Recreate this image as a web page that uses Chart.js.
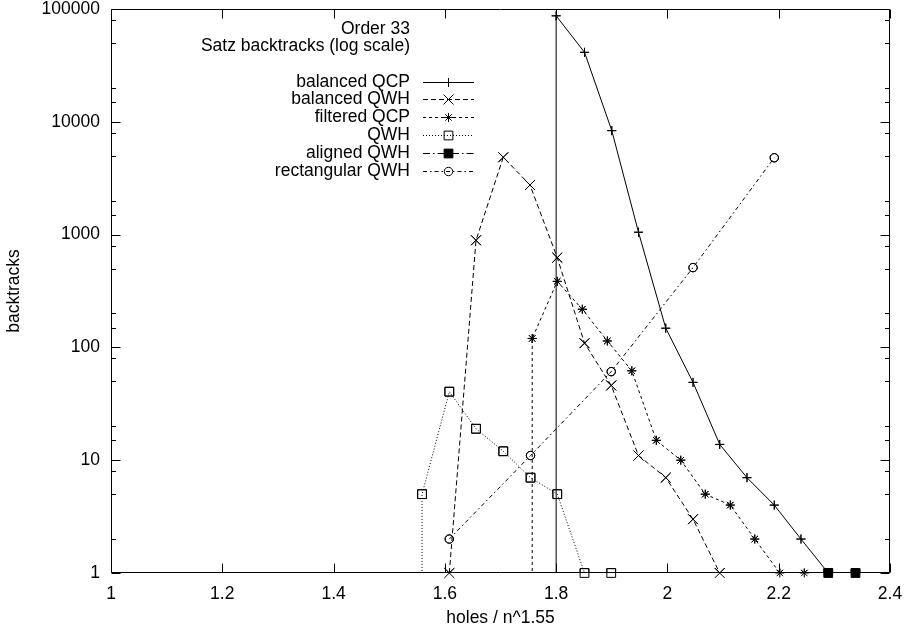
<!DOCTYPE html>
<html>
<head>
<meta charset="utf-8">
<script src="https://cdn.jsdelivr.net/npm/chart.js@4.4.0/dist/chart.umd.min.js"></script>
<style>
  html, body { margin: 0; padding: 0; background: #fff; }
</style>
</head>
<body>
<canvas id="chart" width="905" height="630"></canvas>
<script>
// values (x = holes / n^1.55, y = backtracks)
// a y below 1 is off the log axis: gnuplot just draws the line down to the border
var balancedQcpX = [1.8, 1.8, 1.851, 1.9, 1.948, 1.997, 2.046, 2.094, 2.143, 2.192, 2.24, 2.289];
var balancedQcpY = [0.5, 87000, 41300, 8350, 1050, 148, 49, 13.8, 7, 4, 2, 1];

var balancedQwhX = [1.608, 1.656, 1.705, 1.753, 1.802, 1.851, 1.899, 1.948, 1.997, 2.046, 2.094];
var balancedQwhY = [1, 890, 4850, 2750, 625, 109, 46, 11, 7, 3, 1];

var filteredQcpX = [1.757, 1.757, 1.802, 1.847, 1.892, 1.936, 1.98, 2.024, 2.068, 2.113, 2.157, 2.202, 2.246];
var filteredQcpY = [0.5, 120, 385, 218, 114, 62, 15, 10, 5, 4, 2, 1, 1];

var qwhX = [1.559, 1.559, 1.608, 1.656, 1.705, 1.754, 1.802, 1.851, 1.899];
var qwhY = [0.5, 5, 40.5, 19, 12, 7, 5, 1, 1];

var alignedQwhX = [2.289, 2.338];
var alignedQwhY = [1, 1];

var rectQwhX = [1.608, 1.754, 1.899, 2.046, 2.192];
var rectQwhY = [2, 11, 61, 510, 4800];

var titleLines = ['Order 33', 'Satz backtracks (log scale)'];
var xTickStep = 0.2;

var FONT = '"Liberation Sans", Arial, Helvetica, sans-serif';
var FONT_SIZE = 17.5;
Chart.defaults.font.family = FONT;
Chart.defaults.font.size = FONT_SIZE;
Chart.defaults.color = '#000';

function pairs(xs, ys) {
  return xs.map(function (x, i) { return { x: x, y: ys[i] }; });
}

function series(label, xs, ys, dash, style, radius, filled) {
  return {
    label: label,
    data: pairs(xs, ys),
    borderColor: '#000',
    borderWidth: 1,
    borderDash: dash,
    pointStyle: style,
    pointRadius: radius,
    pointHoverRadius: radius,
    pointBorderColor: '#000',
    pointBorderWidth: 1,
    pointBackgroundColor: filled ? '#000' : 'rgba(0,0,0,0)',
    fill: false,
    tension: 0,
    clip: 0
  };
}

function isPow10(v) {
  var l = Math.log10(v);
  return Math.abs(l - Math.round(l)) < 1e-9;
}

// gnuplot look: inward ticks on all sides, closed border, key + title inside
var gnuplotFrame = {
  id: 'gnuplotFrame',
  afterDatasetsDraw: function (chart) {
    // markers sitting on the bottom border get clipped in half, draw them again whole
    var area = chart.chartArea;
    chart.data.datasets.forEach(function (ds, i) {
      chart.getDatasetMeta(i).data.forEach(function (pt) { pt.draw(chart.ctx, area); });
    });
  },
  afterDraw: function (chart) {
    var ctx = chart.ctx, a = chart.chartArea, xs = chart.scales.x, ys = chart.scales.y;
    var L = Math.round(a.left) + 0.5, R = Math.round(a.right) - 0.5;
    var T = Math.round(a.top) + 0.5, B = Math.round(a.bottom) - 0.5;
    ctx.save();
    ctx.strokeStyle = '#000';
    ctx.lineWidth = 1;
    ctx.setLineDash([]);
    ctx.beginPath();
    ctx.rect(L, T, R - L, B - T);
    xs.ticks.forEach(function (t) {
      var px = Math.round(xs.getPixelForValue(t.value)) + 0.5;
      ctx.moveTo(px, B); ctx.lineTo(px, B - 9);
      ctx.moveTo(px, T); ctx.lineTo(px, T + 9);
    });
    ys.ticks.forEach(function (t) {
      var py = Math.round(ys.getPixelForValue(t.value)) + 0.5;
      var len = isPow10(t.value) ? 9 : 4.5;
      ctx.moveTo(L, py); ctx.lineTo(L + len, py);
      ctx.moveTo(R, py); ctx.lineTo(R - len, py);
    });
    ctx.stroke();

    // title text and key
    var lx = a.left + 299;
    ctx.font = FONT_SIZE + 'px ' + FONT;
    ctx.fillStyle = '#000';
    ctx.textAlign = 'right';
    ctx.textBaseline = 'middle';
    titleLines.forEach(function (s, i) {
      ctx.fillText(s, lx, a.top + 20.5 + i * 17);
    });
    chart.data.datasets.forEach(function (ds, i) {
      var y = Math.round(a.top + 72.5 + i * 17.8) + 0.5;
      ctx.fillStyle = '#000';
      ctx.fillText(ds.label, lx, y);
      ctx.setLineDash(ds.borderDash);
      ctx.beginPath();
      ctx.moveTo(lx + 13, y);
      ctx.lineTo(lx + 64, y);
      ctx.stroke();
      ctx.setLineDash([]);
      ctx.fillStyle = ds.pointBackgroundColor;
      Chart.helpers.drawPoint(ctx, {
        pointStyle: ds.pointStyle, radius: ds.pointRadius, rotation: 0, borderWidth: 1
      }, lx + 38.5, y);
    });
    ctx.restore();
  }
};

new Chart(document.getElementById('chart'), {
  type: 'line',
  data: {
    datasets: [
      series('balanced QCP', balancedQcpX, balancedQcpY, [], 'cross', 4.5, false),
      series('balanced QWH', balancedQwhX, balancedQwhY, [5, 3], 'crossRot', 7, false),
      series('filtered QCP', filteredQcpX, filteredQcpY, [3, 3], 'star', 4.5, false),
      series('QWH', qwhX, qwhY, [1, 2], 'rect', 6.2, false),
      series('aligned QWH', alignedQwhX, alignedQwhY, [7, 3, 1.5, 3], 'rect', 6.2, true),
      series('rectangular QWH', rectQwhX, rectQwhY, [4, 3, 1.5, 3], 'circle', 4.2, false)
    ]
  },
  options: {
    responsive: false,
    animation: false,
    events: [],
    layout: { padding: { top: 9, right: 15, left: 0, bottom: 0 } },
    plugins: { legend: { display: false }, tooltip: { enabled: false } },
    scales: {
      x: {
        type: 'linear',
        min: 1,
        max: 2.4,
        border: { display: false },
        grid: { display: false, drawTicks: false },
        ticks: {
          stepSize: xTickStep,
          padding: 12,
          maxRotation: 0,
          font: { lineHeight: 1 },
          callback: function (v) { return String(Math.round(v * 10) / 10); }
        },
        title: { display: true, text: 'holes / n^1.55', padding: { top: 0, bottom: 1 } },
        afterFit: function (s) {
          s.height = 57;
          s.paddingLeft = 0;
          s.paddingRight = 0;
        }
      },
      y: {
        type: 'logarithmic',
        min: 1,
        max: 100000,
        border: { display: false },
        grid: { display: false, drawTicks: false },
        ticks: {
          padding: 11,
          autoSkip: false,
          font: { lineHeight: 1 },
          callback: function (v) { return isPow10(v) ? String(v) : ''; }
        },
        afterBuildTicks: function (s) {
          s.ticks = s.ticks.filter(function (t) {
            var m = Math.round(t.value / Math.pow(10, Math.floor(Math.log10(t.value) + 1e-9)));
            return m === 1 || m === 2 || m === 5 || m === 8;
          });
        },
        title: { display: true, text: 'backtracks', padding: { top: 4, bottom: 0 } },
        afterFit: function (s) {
          s.width = 111;
          s.paddingTop = 0;
          s.paddingBottom = 0;
        }
      }
    }
  },
  plugins: [gnuplotFrame]
});
</script>
</body>
</html>
